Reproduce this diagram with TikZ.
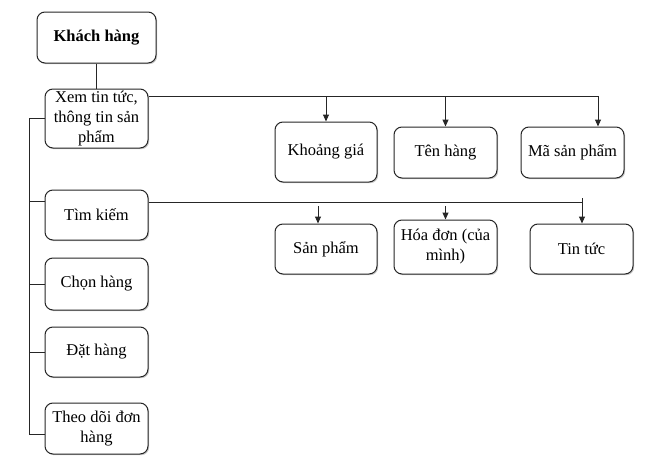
\documentclass[tikz,border=0pt]{standalone}
\usepackage{fontspec}
\setmainfont{Liberation Serif}
\usetikzlibrary{arrows.meta,shadows}
\begin{document}
\begin{tikzpicture}[x=1pt,y=-1pt,
  box/.style={draw=black!85,line width=1pt,rounded corners=8pt,fill=white,
    align=center,inner sep=0pt,font=\fontsize{16.5}{20}\selectfont,
    drop shadow={shadow xshift=1.2pt,shadow yshift=-1.2pt,fill=black!35,opacity=0.6}},
  conn/.style={draw=black!85,line width=1pt},
  arr/.style={conn,-{Triangle[length=7pt,width=6pt]}}]
\useasboundingbox (0,0) rectangle (654,463);
% nodes
\node[box,minimum width=119pt,minimum height=51pt,font=\fontsize{16.5}{20}\selectfont\bfseries] (kh) at (96.5,37.5) {Khách hàng};
\node[box,minimum width=103pt,minimum height=59pt] (xem) at (96.5,118.5) {Xem tin tức,\\thông tin sản\\phẩm};
\node[box,minimum width=103pt,minimum height=50pt] (tk) at (96.5,215) {Tìm kiếm};
\node[box,minimum width=103pt,minimum height=52pt] (ch) at (96.5,284) {Chọn hàng};
\node[box,minimum width=103pt,minimum height=50pt] (dh) at (96.5,352) {Đặt hàng};
\node[box,minimum width=103pt,minimum height=51pt] (td) at (96.5,428.5) {Theo dõi đơn\\hàng};
\node[box,minimum width=102pt,minimum height=60pt] (kg) at (326,152) {Khoảng giá};
\node[box,minimum width=103pt,minimum height=51pt] (th) at (445.5,152.5) {Tên hàng};
\node[box,minimum width=103pt,minimum height=51pt] (ma) at (572.5,152.5) {Mã sản phẩm};
\node[box,minimum width=102pt,minimum height=50pt] (sp) at (326,249) {Sản phẩm};
\node[box,minimum width=103pt,minimum height=54pt] (hd) at (445.5,247) {Hóa đơn (của\\mình)};
\node[box,minimum width=103pt,minimum height=50pt] (tt) at (581.5,249) {Tin tức};
% coordinates
\coordinate (spT) at (29,118.5);
\coordinate (spB) at (29,434);
\coordinate (tkL) at ([yshift=14pt]tk.west);
\coordinate (tdL) at ([yshift=-5.5pt]td.west);
\coordinate (xemR) at ([yshift=22.5pt]xem.east);
\coordinate (tkR) at ([yshift=13pt]tk.east);
\coordinate (busR) at (598,96);
\coordinate (bus2R) at (582,202);
\coordinate (spA) at (318,206);
\coordinate (hdA) at (445.5,206);
\coordinate (ttA) at (582,198);
% connectors
\draw[conn] (kh.south) -- (xem.north);
\draw[conn] (xem.west) -- (spT) -- (spB) -- (tdL);
\draw[conn] (spT |- ch.west) -- (ch.west);
\draw[conn] (spT |- dh.west) -- (dh.west);
\draw[conn] (spT |- tkL) -- (tkL);
\draw[conn] (xemR) -- (busR);
\draw[arr] (kg.north |- busR) -- (kg.north);
\draw[arr] (th.north |- busR) -- (th.north);
\draw[arr] (busR) -- (busR |- ma.north);
\draw[conn] (tkR) -- (bus2R);
\draw[arr] (spA) -- (spA |- sp.north);
\draw[arr] (hdA) -- (hd.north);
\draw[arr] (ttA) -- (ttA |- tt.north);
\end{tikzpicture}
\end{document}
